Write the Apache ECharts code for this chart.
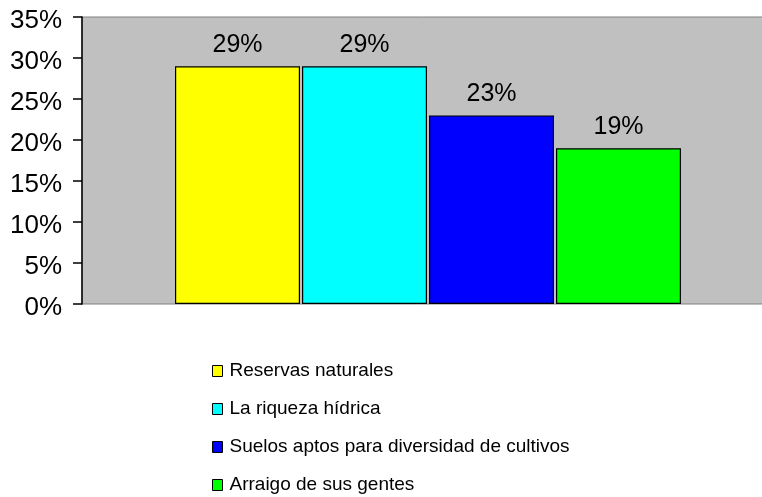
<!DOCTYPE html>
<html><head><meta charset="utf-8">
<script src="https://cdn.jsdelivr.net/npm/echarts@6/dist/echarts.min.js"></script>
<style>html,body{margin:0;padding:0;background:#fff}#c{width:762px;height:497px}</style>
</head><body><div id="c"></div>
<script>
const categories = [''];
const seriesNames = ['Reservas naturales','La riqueza hídrica','Suelos aptos para diversidad de cultivos','Arraigo de sus gentes'];
const seriesValues = [29, 29, 23, 19];
const seriesColors = ['#FFFF00','#00FFFF','#0000FF','#00FF00'];
const yTicks = [0,5,10,15,20,25,30,35];

const FONT = 'Liberation Sans, Arial, sans-serif';
const chart = echarts.init(document.getElementById('c'), null, {renderer:'canvas'});
chart.setOption({
  animation:false,
  grid:{left:82, width:692, top:17, height:287, outerBoundsMode:'none', containLabel:false,
        show:true, backgroundColor:'#C0C0C0', borderColor:'#808080', borderWidth:1},
  legend:{
    orient:'vertical', left:207, top:356, height:160, itemWidth:10, itemHeight:11, itemGap:18,
    icon:'rect',
    itemStyle:{borderColor:'#000', borderWidth:1},
    textStyle:{fontFamily:FONT, fontSize:19, lineHeight:20, color:'#000', padding:[0,0,0,2]},
    data: seriesNames
  },
  xAxis:{type:'category', data:categories, axisLine:{show:false}, axisTick:{show:false}, axisLabel:{show:false}},
  yAxis:{type:'value', min:yTicks[0], max:yTicks[yTicks.length-1], interval:5,
    axisLine:{show:true, lineStyle:{color:'#000', width:1.5}},
    axisTick:{show:true, length:9, lineStyle:{color:'#000', width:1.5}},
    splitLine:{show:false},
    axisLabel:{formatter:'{value}%', fontFamily:FONT, fontSize:26, color:'#000', margin:20, verticalAlign:'top', lineHeight:8}
  },
  series: seriesNames.map((n,i)=>({
    name:n, type:'bar', data:[seriesValues[i]], barWidth:125, barGap:'1.6%',
    itemStyle:{color:seriesColors[i], borderColor:'#000', borderWidth:1.2},
    label:{show:true, position:'top', distance:9, formatter:'{c}%', fontFamily:FONT, fontSize:25, color:'#000'}
  }))
});
</script></body></html>
